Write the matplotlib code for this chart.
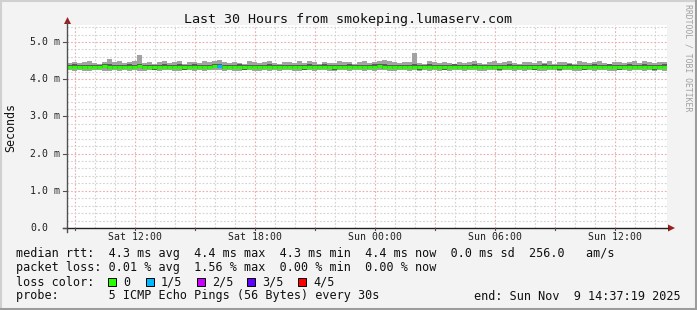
import matplotlib
matplotlib.use("Agg")
import matplotlib.pyplot as plt
import matplotlib.dates as mdates
import pandas as pd
from matplotlib.lines import Line2D
from matplotlib.patches import Rectangle, Polygon

# ---- data (ms), one value per 15 minute step over the last 30 hours ----
START = "2025-11-08 08:37:19"
END = "2025-11-09 14:37:19"

median = [
    4.33, 4.34, 4.33, 4.32, 4.34, 4.33, 4.33, 4.35, 4.34, 4.33, 4.32, 4.33, 4.34, 4.33, 4.35, 4.34, 4.33, 4.32, 4.33, 4.34,
    4.33, 4.33, 4.34, 4.32, 4.33, 4.34, 4.33, 4.32, 4.34, 4.35, 4.36, 4.34, 4.33, 4.33, 4.34, 4.32, 4.33, 4.34, 4.33, 4.33,
    4.34, 4.33, 4.32, 4.33, 4.34, 4.33, 4.33, 4.32, 4.34, 4.33, 4.33, 4.34, 4.33, 4.32, 4.33, 4.34, 4.33, 4.33, 4.34, 4.33,
    4.33, 4.34, 4.35, 4.34, 4.34, 4.33, 4.32, 4.33, 4.34, 4.33, 4.32, 4.33, 4.34, 4.33, 4.33, 4.32, 4.33, 4.34, 4.33, 4.32,
    4.33, 4.34, 4.33, 4.33, 4.34, 4.33, 4.32, 4.33, 4.34, 4.33, 4.33, 4.34, 4.33, 4.32, 4.33, 4.34, 4.33, 4.33, 4.32, 4.33,
    4.34, 4.33, 4.33, 4.32, 4.33, 4.34, 4.33, 4.33, 4.34, 4.33, 4.32, 4.33, 4.34, 4.33, 4.33, 4.34, 4.33, 4.32, 4.33, 4.34,
]
ping_max = [
    4.44, 4.47, 4.43, 4.46, 4.49, 4.44, 4.42, 4.47, 4.54, 4.45, 4.48, 4.43, 4.46, 4.49, 4.65, 4.44, 4.47, 4.42, 4.45, 4.48,
    4.43, 4.46, 4.49, 4.42, 4.45, 4.47, 4.43, 4.48, 4.45, 4.50, 4.52, 4.46, 4.43, 4.47, 4.44, 4.42, 4.48, 4.45, 4.43, 4.46,
    4.49, 4.44, 4.42, 4.47, 4.45, 4.43, 4.48, 4.44, 4.50, 4.46, 4.42, 4.47, 4.44, 4.43, 4.49, 4.45, 4.47, 4.42, 4.46, 4.48,
    4.44, 4.47, 4.50, 4.52, 4.49, 4.46, 4.43, 4.47, 4.45, 4.70, 4.44, 4.42, 4.48, 4.45, 4.43, 4.47, 4.44, 4.42, 4.46, 4.43,
    4.45, 4.48, 4.44, 4.42, 4.46, 4.49, 4.43, 4.45, 4.48, 4.44, 4.42, 4.47, 4.45, 4.43, 4.48, 4.44, 4.49, 4.42, 4.45, 4.47,
    4.44, 4.42, 4.48, 4.45, 4.43, 4.46, 4.49, 4.44, 4.42, 4.47, 4.45, 4.43, 4.46, 4.48, 4.44, 4.50, 4.45, 4.43, 4.47, 4.46,
]
ping_min = [
    4.24, 4.22, 4.25, 4.23, 4.21, 4.24, 4.26, 4.23, 4.22, 4.25, 4.23, 4.24, 4.21, 4.25, 4.23, 4.22, 4.24, 4.26, 4.22, 4.24,
    4.25, 4.23, 4.21, 4.24, 4.26, 4.22, 4.24, 4.23, 4.25, 4.24, 4.26, 4.22, 4.25, 4.23, 4.21, 4.24, 4.26, 4.23, 4.22, 4.25,
    4.23, 4.25, 4.22, 4.24, 4.26, 4.23, 4.21, 4.24, 4.25, 4.22, 4.24, 4.26, 4.23, 4.21, 4.24, 4.25, 4.22, 4.24, 4.26, 4.23,
    4.25, 4.22, 4.24, 4.26, 4.23, 4.21, 4.24, 4.25, 4.22, 4.24, 4.23, 4.26, 4.22, 4.24, 4.21, 4.25, 4.23, 4.24, 4.26, 4.22,
    4.24, 4.26, 4.23, 4.21, 4.24, 4.25, 4.22, 4.24, 4.26, 4.23, 4.25, 4.22, 4.24, 4.26, 4.23, 4.21, 4.24, 4.25, 4.22, 4.24,
    4.26, 4.23, 4.21, 4.24, 4.25, 4.22, 4.24, 4.26, 4.23, 4.21, 4.24, 4.25, 4.22, 4.24, 4.26, 4.23, 4.25, 4.22, 4.24, 4.23,
]
ping_2 = [
    4.28, 4.29, 4.27, 4.27, 4.28, 4.29, 4.27, 4.30, 4.28, 4.27, 4.27, 4.28, 4.29, 4.27, 4.30, 4.28, 4.28, 4.26, 4.28, 4.29,
    4.27, 4.28, 4.29, 4.26, 4.28, 4.29, 4.27, 4.27, 4.28, 4.30, 4.31, 4.28, 4.28, 4.27, 4.29, 4.26, 4.28, 4.29, 4.27, 4.28,
    4.29, 4.27, 4.27, 4.28, 4.29, 4.27, 4.28, 4.26, 4.29, 4.28, 4.27, 4.29, 4.28, 4.26, 4.28, 4.29, 4.27, 4.28, 4.29, 4.27,
    4.28, 4.29, 4.30, 4.28, 4.29, 4.27, 4.27, 4.28, 4.29, 4.27, 4.26, 4.28, 4.29, 4.27, 4.28, 4.26, 4.28, 4.29, 4.27, 4.27,
    4.28, 4.29, 4.27, 4.28, 4.29, 4.27, 4.26, 4.28, 4.29, 4.28, 4.27, 4.29, 4.28, 4.26, 4.28, 4.29, 4.27, 4.28, 4.26, 4.28,
    4.29, 4.27, 4.28, 4.26, 4.28, 4.29, 4.27, 4.28, 4.29, 4.27, 4.26, 4.28, 4.29, 4.27, 4.28, 4.29, 4.28, 4.26, 4.28, 4.29,
]
ping_4 = [
    4.38, 4.40, 4.37, 4.37, 4.39, 4.38, 4.39, 4.40, 4.41, 4.37, 4.38, 4.37, 4.40, 4.38, 4.41, 4.39, 4.37, 4.38, 4.38, 4.40,
    4.38, 4.37, 4.40, 4.37, 4.38, 4.40, 4.37, 4.38, 4.39, 4.41, 4.42, 4.39, 4.37, 4.38, 4.40, 4.37, 4.39, 4.38, 4.37, 4.38,
    4.40, 4.37, 4.38, 4.39, 4.38, 4.37, 4.39, 4.37, 4.40, 4.38, 4.37, 4.40, 4.38, 4.37, 4.39, 4.38, 4.40, 4.37, 4.39, 4.38,
    4.38, 4.40, 4.41, 4.40, 4.39, 4.38, 4.37, 4.39, 4.38, 4.40, 4.37, 4.38, 4.40, 4.38, 4.37, 4.38, 4.39, 4.40, 4.37, 4.37,
    4.38, 4.40, 4.37, 4.38, 4.39, 4.38, 4.37, 4.38, 4.40, 4.37, 4.38, 4.39, 4.38, 4.37, 4.39, 4.40, 4.38, 4.37, 4.38, 4.38,
    4.40, 4.37, 4.38, 4.37, 4.39, 4.40, 4.38, 4.37, 4.40, 4.38, 4.37, 4.39, 4.40, 4.38, 4.37, 4.40, 4.38, 4.37, 4.39, 4.40,
]
# lost pings out of 5 per step (only one step lost a ping)
loss = [0] * 120
loss[30] = 1

loss_labels = ["0", "1/5", "2/5", "3/5", "4/5"]
loss_colors = ["#26ff00", "#00b8ff", "#c800ff", "#6000ff", "#ff0000"]

y_ticks = [0, 1, 2, 3, 4, 5]
y_tick_labels = ["0.0", "1.0 m", "2.0 m", "3.0 m", "4.0 m", "5.0 m"]
x_tick_times = ["2025-11-08 12:00", "2025-11-08 18:00", "2025-11-09 00:00",
                "2025-11-09 06:00", "2025-11-09 12:00"]
x_tick_labels = ["Sat 12:00", "Sat 18:00", "Sun 00:00", "Sun 06:00", "Sun 12:00"]

legend_lines = [
    "median rtt:  4.3 ms avg  4.4 ms max  4.3 ms min  4.4 ms now  0.0 ms sd  256.0   am/s",
    "packet loss: 0.01 % avg  1.56 % max  0.00 % min  0.00 % now",
]

# ---- figure ----
W, H = 697, 310
MONO = "DejaVu Sans Mono"
fig = plt.figure(figsize=(W / 100, H / 100), dpi=100, facecolor="#f3f3f3")


def fx(px):
    return px / W


def fy(py):
    return 1 - py / H


x0, x1, ytop, ybot = 67, 667, 25, 228
ax = fig.add_axes([fx(x0), fy(ybot), fx(x1 - x0), fy(ytop) - fy(ybot)])
ax.set_facecolor("white")

times = pd.date_range(START, periods=len(median) + 1, freq="15min")
t_edges = mdates.date2num(times)

# smoke: repeat last value so the final step is drawn too
ax.fill_between(t_edges, ping_min + ping_min[-1:], ping_max + ping_max[-1:], step="post",
                color="#a2a2a2", lw=0, zorder=3)
ax.fill_between(t_edges, ping_2 + ping_2[-1:], ping_4 + ping_4[-1:], step="post",
                color="#5c5c5c", lw=0, zorder=3)
# median, coloured by loss
for i in range(len(median)):
    ax.plot([t_edges[i], t_edges[i + 1]], [median[i], median[i]],
            color=loss_colors[loss[i]], lw=2.2, solid_capstyle="butt", zorder=4)

ax.set_xlim(mdates.date2num(pd.Timestamp(START)), mdates.date2num(pd.Timestamp(END)))
ax.set_ylim(0, (ybot - ytop) / 37.2)

# grid (dotted)
hours = pd.date_range("2025-11-08 09:00", END, freq="1h")
for h in hours:
    major = h.hour % 3 == 0
    ax.axvline(mdates.date2num(h), color="#eab0b0" if major else "#d4d4d4",
               lw=0.8, ls=(0, (1.6, 1.6)), zorder=1)
for k in range(1, 28):
    v = k * 0.2
    major = k % 5 == 0
    ax.axhline(v, color="#eab0b0" if major else "#d4d4d4", lw=0.8, ls=(0, (1.6, 1.6)),
               zorder=1)

for s in ax.spines.values():
    s.set_visible(False)
ax.set_xticks([])
ax.set_yticks([])

# axes lines with arrows
fig.add_artist(Line2D([fx(x0), fx(x0)], [fy(ybot + 4), fy(22)], color="#505050", lw=1.0))
fig.add_artist(Line2D([fx(63), fx(668)], [fy(ybot), fy(ybot)], color="#202020", lw=1.0))
fig.add_artist(Polygon([[fx(64), fy(24)], [fx(71), fy(24)], [fx(67.5), fy(17)]],
                       closed=True, color="#9a2020", lw=0))
fig.add_artist(Polygon([[fx(668), fy(224.5)], [fx(668), fy(231.5)], [fx(675), fy(228)]],
                       closed=True, color="#9a2020", lw=0))
# small ticks
for v in y_ticks:
    py = ybot - v * 37.2
    fig.add_artist(Line2D([fx(63), fx(67)], [fy(py), fy(py)], color="#505050", lw=0.8))
for h in hours:
    if h.hour % 3 == 0:
        px = x0 + (h - pd.Timestamp(START)).total_seconds() / 3600 * 20
        fig.add_artist(Line2D([fx(px), fx(px)], [fy(ybot), fy(ybot + 2)], color="#505050", lw=0.8))

# tick labels
for v, lab in zip(y_ticks, y_tick_labels):
    fig.text(fx(30), fy(ybot - v * 37.2), lab, family=MONO, fontsize=7.1,
             ha="left", va="center", color="#202020")
for t, lab in zip(x_tick_times, x_tick_labels):
    px = x0 + (pd.Timestamp(t) - pd.Timestamp(START)).total_seconds() / 3600 * 20
    fig.text(fx(px), fy(237), lab, family=MONO, fontsize=7.1, ha="center", va="center",
             color="#202020")

# titles
fig.text(fx(348), fy(19), "Last 30 Hours from smokeping.lumaserv.com", family=MONO,
         fontsize=9.6, ha="center", va="center", color="#101010")
fig.text(fx(11), fy(127), "Seconds", family=MONO, fontsize=8.4, rotation=90,
         ha="center", va="center", color="#101010")
fig.text(fx(688), fy(4), "RRDTOOL / TOBI OETIKER", family=MONO, fontsize=5.9,
         rotation=270, ha="center", va="top", color="#a0a0a0")

# legend
for row, line in zip([254, 268], legend_lines):
    fig.text(fx(16), fy(row), line, family=MONO, fontsize=8.5, ha="left", va="center",
             color="#101010")
fig.text(fx(16), fy(282), "loss color:", family=MONO, fontsize=8.5, ha="left",
         va="center", color="#101010")
box_x = [108, 146, 197, 247, 298]
for bx, col, lab in zip(box_x, loss_colors, loss_labels):
    fig.add_artist(Rectangle((fx(bx), fy(286)), fx(8), fy(278) - fy(286), facecolor=col,
                             edgecolor="black", lw=0.7))
    fig.text(fx(bx + 15), fy(282), lab, family=MONO, fontsize=8.5, ha="left",
             va="center", color="#101010")
fig.text(fx(16), fy(296), "probe:       5 ICMP Echo Pings (56 Bytes) every 30s",
         family=MONO, fontsize=8.5, ha="left", va="center", color="#101010")
fig.text(fx(681), fy(296), "end: Sun Nov  9 14:37:19 2025", family=MONO, fontsize=8.5,
         ha="right", va="center", color="#101010")

# outer 3d frame
fig.add_artist(Line2D([0, 1], [fy(1), fy(1)], color="#d0d0d0", lw=1.5))
fig.add_artist(Line2D([fx(1), fx(1)], [0, 1], color="#d0d0d0", lw=1.5))
fig.add_artist(Line2D([0, 1], [fy(308.5), fy(308.5)], color="#9c9c9c", lw=2.2))
fig.add_artist(Line2D([fx(695.5), fx(695.5)], [0, 1], color="#9c9c9c", lw=2.2))

fig.savefig("out.png", dpi=100, facecolor=fig.get_facecolor())
